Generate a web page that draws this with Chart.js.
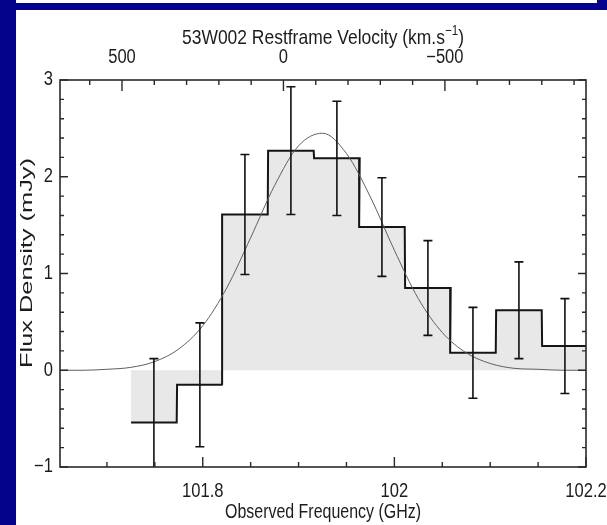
<!DOCTYPE html>
<html>
<head>
<meta charset="utf-8">
<title>53W002 CO spectrum</title>
<script src="https://cdn.jsdelivr.net/npm/chart.js@4.4.1/dist/chart.umd.min.js"></script>
<style>
  html, body { margin: 0; padding: 0; background: #fff; }
  body { width: 607px; height: 525px; position: relative; overflow: hidden; }
  .band { position: absolute; background: #03038c; }
  #plotBox { position: absolute; left: 16px; top: 10px; width: 591px; height: 515px; background: #fff; }
</style>
</head>
<body>
<div class="band" style="left:0;top:0;width:16px;height:525px"></div>
<div class="band" style="left:16px;top:3px;width:591px;height:7px"></div>
<div class="band" style="left:597px;top:0;width:10px;height:3px"></div>
<div id="plotBox"><canvas id="spectrum" width="591" height="515"></canvas></div>
<script>
// binned CO spectrum of 53W002 (GHz, mJy)
const binCenters = [101.749, 101.797, 101.844, 101.892, 101.940, 101.987, 102.035, 102.082, 102.130, 102.178];
const binWidth = 0.0476;
const fluxDensity = [-0.54, -0.15, 1.61, 2.27, 2.19, 1.48, 0.85, 0.18, 0.62, 0.25];
const fluxError = [0.66, 0.64, 0.62, 0.66, 0.59, 0.51, 0.49, 0.47, 0.50, 0.49];

// gaussian fit, sampled along the curve
const fitFreq = [101.650, 101.675, 101.700, 101.725, 101.750, 101.775, 101.800, 101.825, 101.850,
  101.875, 101.900, 101.925, 101.950, 101.975, 102.000, 102.025, 102.050, 102.075, 102.100,
  102.125, 102.150, 102.175, 102.200];
const fitFlux = [0.00, 0.00, 0.01, 0.03, 0.09, 0.22, 0.46, 0.85, 1.37,
  1.91, 2.32, 2.45, 2.24, 1.79, 1.24, 0.74, 0.39, 0.18, 0.07,
  0.02, 0.01, 0.00, 0.00];

// axis ranges and labelled ticks
const freqRange = [101.651, 102.2];
const velocityRange = [-937, 692];
const fluxRange = [-1, 3];
const freqLabels = [101.8, 102, 102.2];
const velocityLabels = [500, 0, -500];
const fluxLabels = [-1, 0, 1, 2, 3];

const FONT = '"Liberation Sans", Arial, sans-serif';
const INK = "#1c1c1c";
const SQUEEZE = 0.85; // labels are set in a tall, narrow face

function withMinus(v) {
  return v < 0 ? "\u2212" + Math.abs(v) : String(v);
}

function freqText(v) {
  return String(Number(v.toFixed(2)));
}

// two points per bin so the steps land on the bin edges
const stepPoints = [];
binCenters.forEach((c, i) => {
  stepPoints.push({ x: c - binWidth / 2, y: fluxDensity[i] });
  stepPoints.push({ x: c + binWidth / 2, y: fluxDensity[i] });
});

// draw text squeezed horizontally about its anchor
function narrowText(ctx, text, x, y, size, align, sx) {
  ctx.save();
  ctx.font = size + "px " + FONT;
  ctx.textAlign = align;
  ctx.translate(x, y);
  ctx.scale(sx, 1);
  ctx.fillText(text, 0, 0);
  ctx.restore();
}

const errorBars = {
  id: "errorBars",
  afterDatasetsDraw(chart) {
    const { ctx, chartArea: a } = chart;
    const xs = chart.scales.x;
    const ys = chart.scales.y;
    ctx.save();
    ctx.beginPath();
    ctx.rect(a.left, a.top, a.width, a.height);
    ctx.clip();
    ctx.strokeStyle = "#111";
    ctx.lineWidth = 1.6;
    binCenters.forEach((c, i) => {
      const px = xs.getPixelForValue(c);
      const lo = ys.getPixelForValue(fluxDensity[i] - fluxError[i]);
      const hi = ys.getPixelForValue(fluxDensity[i] + fluxError[i]);
      ctx.beginPath();
      ctx.moveTo(px, lo);
      ctx.lineTo(px, hi);
      ctx.moveTo(px - 4.5, lo);
      ctx.lineTo(px + 4.5, lo);
      ctx.moveTo(px - 4.5, hi);
      ctx.lineTo(px + 4.5, hi);
      ctx.stroke();
    });
    ctx.restore();
  },
};

// inward tick marks, frame, tick labels and axis titles
const axisFrame = {
  id: "axisFrame",
  afterDraw(chart) {
    const { ctx, chartArea: a } = chart;
    const xs = chart.scales.x;
    const xt = chart.scales.x2;
    const ys = chart.scales.y;
    ctx.save();
    ctx.strokeStyle = "#2a2a2a";
    ctx.lineWidth = 1.4;

    ctx.beginPath();
    for (let k = 0; k <= 10; k++) {
      const p = xs.getPixelForValue(101.7 + k * 0.05);
      const len = k % 4 === 2 ? 10 : 5;
      ctx.moveTo(p, a.bottom);
      ctx.lineTo(p, a.bottom - len);
    }
    for (let v = 600; v >= -900; v -= 100) {
      const p = xt.getPixelForValue(v);
      const len = v % 500 === 0 ? 11 : 5;
      ctx.moveTo(p, a.top);
      ctx.lineTo(p, a.top + len);
    }
    for (let k = 0; k <= 20; k++) {
      const p = ys.getPixelForValue(-1 + k * 0.2);
      const len = k % 5 === 0 ? 8 : 4;
      ctx.moveTo(a.left, p);
      ctx.lineTo(a.left + len, p);
      ctx.moveTo(a.right, p);
      ctx.lineTo(a.right - len, p);
    }
    ctx.stroke();

    ctx.lineWidth = 1.6;
    ctx.strokeRect(a.left, a.top, a.right - a.left, a.bottom - a.top);

    ctx.fillStyle = INK;

    // tick labels from the scales' own ticks
    ctx.textBaseline = "alphabetic";
    xs.ticks.forEach((t) => {
      narrowText(ctx, freqText(t.value), xs.getPixelForValue(t.value), a.bottom + 30, 19.5, "center", SQUEEZE);
    });
    xt.ticks.forEach((t) => {
      narrowText(ctx, withMinus(t.value), xt.getPixelForValue(t.value), a.top - 17, 19.5, "center", SQUEEZE);
    });
    ctx.textBaseline = "middle";
    ys.ticks.forEach((t) => {
      narrowText(ctx, withMinus(t.value), a.left - 7, ys.getPixelForValue(t.value), 19.5, "right", SQUEEZE);
    });

    ctx.textBaseline = "alphabetic";
    const cx = (a.left + a.right) / 2;

    // top title with a raised exponent
    const head = "53W002 Restframe Velocity (km.s";
    ctx.font = "21px " + FONT;
    const w1 = ctx.measureText(head).width;
    const w3 = ctx.measureText(")").width;
    ctx.font = "14px " + FONT;
    const w2 = ctx.measureText("\u22121").width;
    const total = w1 + w2 + w3;
    ctx.save();
    ctx.translate(cx, 34);
    ctx.scale(282 / total, 1);
    ctx.textAlign = "left";
    const x0 = -total / 2;
    ctx.font = "21px " + FONT;
    ctx.fillText(head, x0, 0);
    ctx.fillText(")", x0 + w1 + w2, 0);
    ctx.font = "14px " + FONT;
    ctx.fillText("\u22121", x0 + w1, -9);
    ctx.restore();

    // bottom title
    const xTitle = "Observed Frequency (GHz)";
    ctx.font = "21px " + FONT;
    narrowText(ctx, xTitle, cx, 508, 21, "center", 196 / ctx.measureText(xTitle).width);

    // vertical title, stretched along its length
    ctx.save();
    ctx.translate(11, 253);
    ctx.rotate(-Math.PI / 2);
    ctx.font = "17px " + FONT;
    const yTitle = "Flux Density (mJy)";
    ctx.scale(210 / ctx.measureText(yTitle).width, 1);
    ctx.textAlign = "center";
    ctx.textBaseline = "middle";
    ctx.fillText(yTitle, 0, 0);
    ctx.restore();

    ctx.restore();
  },
};

const hiddenTicks = { display: false };

new Chart(document.getElementById("spectrum"), {
  type: "line",
  data: {
    datasets: [
      {
        label: "gaussian fit",
        data: fitFreq.map((f, i) => ({ x: f, y: fitFlux[i] })),
        borderColor: "#606060",
        borderWidth: 1,
        pointRadius: 0,
        cubicInterpolationMode: "monotone",
        fill: false,
        order: 1,
      },
      {
        label: "spectrum",
        data: stepPoints,
        borderColor: "#151515",
        borderWidth: 2,
        backgroundColor: "#e8e8e8",
        fill: "origin",
        pointRadius: 0,
        tension: 0,
        order: 2,
      },
    ],
  },
  options: {
    responsive: false,
    animation: false,
    layout: { padding: { left: 0, right: 21, top: 0, bottom: 0 } },
    plugins: {
      legend: { display: false },
      tooltip: { enabled: false },
    },
    scales: {
      x: {
        type: "linear",
        position: "bottom",
        min: freqRange[0],
        max: freqRange[1],
        afterBuildTicks: (s) => { s.ticks = freqLabels.map((v) => ({ value: v })); },
        afterFit: (s) => { s.height = 58; s.paddingLeft = 0; s.paddingRight = 0; },
        ticks: hiddenTicks,
        grid: { display: false, drawTicks: false },
        border: { display: false },
      },
      x2: {
        type: "linear",
        position: "top",
        reverse: true,
        min: velocityRange[0],
        max: velocityRange[1],
        afterBuildTicks: (s) => { s.ticks = velocityLabels.map((v) => ({ value: v })); },
        afterFit: (s) => { s.height = 70; s.paddingLeft = 0; s.paddingRight = 0; },
        ticks: hiddenTicks,
        grid: { display: false, drawTicks: false },
        border: { display: false },
      },
      y: {
        type: "linear",
        min: fluxRange[0],
        max: fluxRange[1],
        afterBuildTicks: (s) => { s.ticks = fluxLabels.map((v) => ({ value: v })); },
        afterFit: (s) => { s.width = 44; s.paddingTop = 0; s.paddingBottom = 0; },
        ticks: hiddenTicks,
        grid: { display: false, drawTicks: false },
        border: { display: false },
      },
    },
  },
  plugins: [errorBars, axisFrame],
});
</script>
</body>
</html>
